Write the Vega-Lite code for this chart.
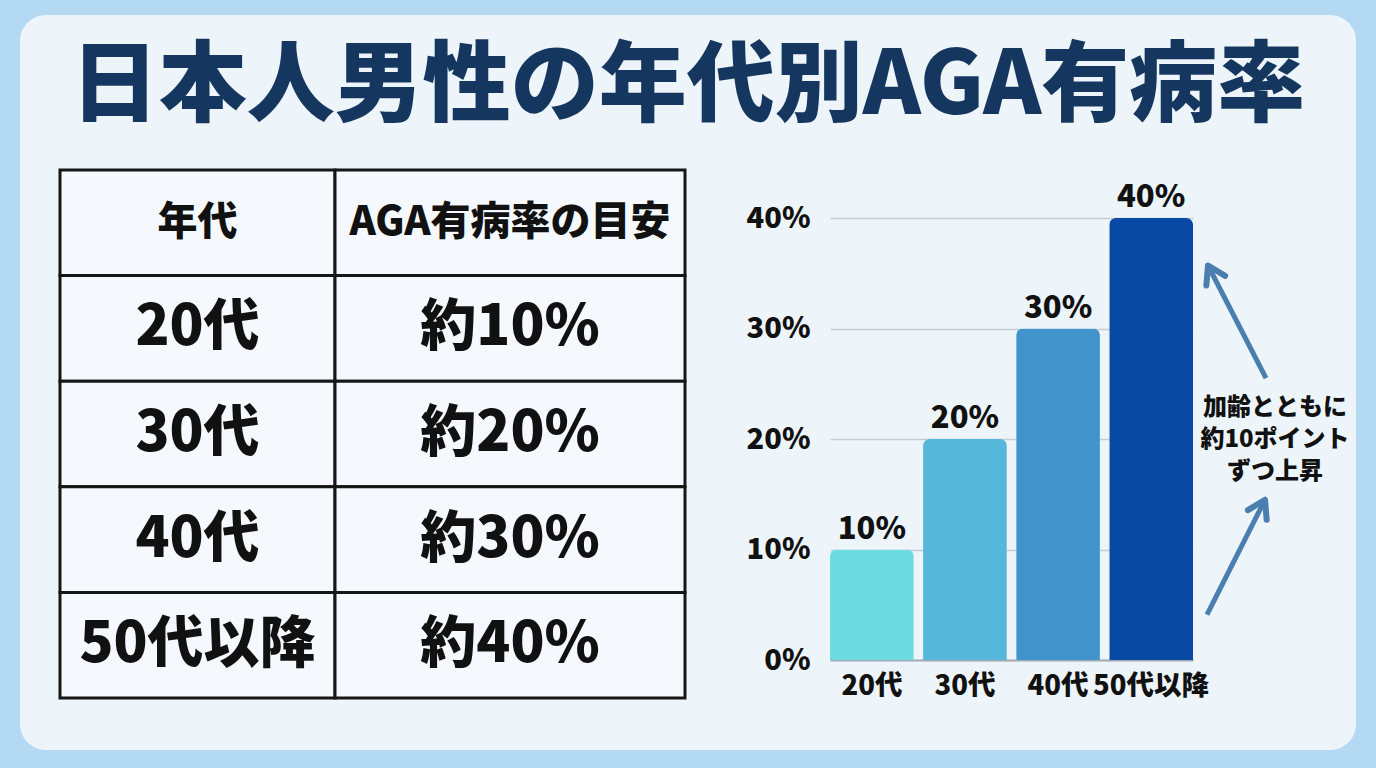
{
  "$schema": "https://vega.github.io/schema/vega-lite/v6.json",
  "width": 1336,
  "height": 735,
  "autosize": "none",
  "padding": {"left": 20, "top": 15, "right": 20, "bottom": 18},
  "background": "#b4d9f3",
  "config": {
    "view": {"fill": "#edf5fb", "stroke": null, "cornerRadius": 26},
    "font": "Noto Sans CJK JP",
    "text": {"font": "Noto Sans CJK JP", "color": "#111111"}
  },
  "title": {
    "text": "日本人男性の年代別AGA有病率",
    "font": "Noto Sans CJK JP",
    "fontSize": 88,
    "fontWeight": 900,
    "color": "#15375f",
    "anchor": "middle",
    "frame": "group",
    "orient": "top",
    "baseline": "alphabetic",
    "offset": -187
  },
  "datasets": {
    "table": [
      {"k": "年代", "v": "AGA有病率の目安", "h": true},
      {"k": "20代", "v": "約10%", "h": false},
      {"k": "30代", "v": "約20%", "h": false},
      {"k": "40代", "v": "約30%", "h": false},
      {"k": "50代以降", "v": "約40%", "h": false}
    ],
    "bars": [
      {"age": "20代", "rate": 10, "label": "10%"},
      {"age": "30代", "rate": 20, "label": "20%"},
      {"age": "40代", "rate": 30, "label": "30%"},
      {"age": "50代以降", "rate": 40, "label": "40%"}
    ],
    "arrows": [
      {"id": "upper", "x": 66, "y": 25.5, "x2": 8, "y2": 35.7},
      {"id": "lower", "x": 7, "y": 4.1, "x2": 65, "y2": 14.5}
    ],
    "note": [
      {"x": 75, "y": 22.8, "text": "加齢とともに\n約10ポイント\nずつ上昇"}
    ]
  },
  "layer": [
    {
      "data": {"name": "table"},
      "encoding": {
        "y": {"field": "k", "type": "nominal", "sort": null,
              "scale": {"range": [155, 683], "paddingInner": 0, "paddingOuter": 0},
              "axis": null}
      },
      "layer": [
        {
          "encoding": {
            "x": {"datum": "年代", "type": "nominal",
                  "scale": {"range": [40, 315], "paddingInner": 0, "paddingOuter": 0},
                  "axis": null}
          },
          "layer": [
            {"mark": {"type": "rect", "fill": "#f5f9fd", "stroke": "#161616", "strokeWidth": 3}},
            {"transform": [{"filter": "datum.h"}],
             "mark": {"type": "text", "fontSize": 40, "fontWeight": 900, "baseline": "middle"},
             "encoding": {"text": {"field": "k"}}},
            {"transform": [{"filter": "!datum.h"}],
             "mark": {"type": "text", "fontSize": 56, "fontWeight": 900, "baseline": "middle"},
             "encoding": {"text": {"field": "k"}}}
          ]
        },
        {
          "encoding": {
            "x": {"datum": "目安", "type": "nominal",
                  "scale": {"range": [315, 665], "paddingInner": 0, "paddingOuter": 0},
                  "axis": null}
          },
          "layer": [
            {"mark": {"type": "rect", "fill": "#f5f9fd", "stroke": "#161616", "strokeWidth": 3}},
            {"transform": [{"filter": "datum.h"}],
             "mark": {"type": "text", "fontSize": 40, "fontWeight": 900, "baseline": "middle"},
             "encoding": {"text": {"field": "v"}}},
            {"transform": [{"filter": "!datum.h"}],
             "mark": {"type": "text", "fontSize": 56, "fontWeight": 900, "baseline": "middle"},
             "encoding": {"text": {"field": "v"}}}
          ]
        }
      ],
      "resolve": {"scale": {"x": "independent"}}
    },
    {
      "data": {"name": "bars"},
      "encoding": {
        "x": {"field": "age", "type": "nominal", "sort": null,
              "scale": {"range": [810, 1173], "paddingInner": 0.1, "paddingOuter": 0},
              "axis": {"orient": "bottom", "offset": -90, "title": null, "labelAngle": 0,
                       "labelFontSize": 27.5, "labelFontWeight": 900, "labelColor": "#111111",
                       "labelFont": "Noto Sans CJK JP", "labelPadding": 12,
                       "ticks": false, "grid": false, "domainColor": "#a3abb5", "domainWidth": 2}},
        "y": {"field": "rate", "type": "quantitative",
              "scale": {"domain": [0, 40], "range": [645, 203], "nice": false},
              "axis": {"orient": "left", "offset": -810, "title": null, "values": [0, 10, 20, 30, 40],
                       "labelExpr": "datum.value + '%'",
                       "labelFontSize": 29, "labelFontWeight": 900, "labelColor": "#111111",
                       "labelFont": "Noto Sans CJK JP", "labelPadding": 20,
                       "ticks": false, "domain": false, "grid": true,
                       "gridColor": "#c6ccd4", "gridWidth": 1.5}}
      },
      "layer": [
        {"mark": {"type": "bar", "cornerRadiusTopLeft": 7, "cornerRadiusTopRight": 7},
         "encoding": {
           "color": {"field": "age", "type": "nominal", "sort": null, "legend": null,
                     "scale": {"range": ["#6cdce0", "#55b7d9", "#4093cb", "#0749a3"]}}
         }},
        {"mark": {"type": "text", "fontSize": 31, "fontWeight": 900, "baseline": "alphabetic", "dy": -11},
         "encoding": {"text": {"field": "label"}}}
      ]
    },
    {
      "encoding": {},
      "layer": [
        {
          "data": {"name": "arrows"},
          "mark": {"type": "rule", "color": "#4a7eaf", "strokeWidth": 5},
          "encoding": {
            "x": {"field": "x", "type": "quantitative",
                  "scale": {"domain": [0, 150], "range": [1180, 1330], "nice": false, "zero": false}, "axis": null},
            "y": {"field": "y", "type": "quantitative",
                  "scale": {"domain": [0, 40], "range": [645, 203], "nice": false}, "axis": null},
            "x2": {"field": "x2"},
            "y2": {"field": "y2"}
          }
        },
        {
          "data": {"name": "arrows"},
          "transform": [{"filter": "datum.id === 'upper'"}],
          "mark": {"type": "point", "shape": "M-0.62,1L0,0L0.62,1", "size": 1156, "filled": false,
                   "stroke": "#4a7eaf", "strokeWidth": 6, "strokeCap": "round", "strokeJoin": "round",
                   "angle": 333, "opacity": 1},
          "encoding": {
            "x": {"field": "x2", "type": "quantitative"},
            "y": {"field": "y2", "type": "quantitative"}
          }
        },
        {
          "data": {"name": "arrows"},
          "transform": [{"filter": "datum.id === 'lower'"}],
          "mark": {"type": "point", "shape": "M-0.62,1L0,0L0.62,1", "size": 1156, "filled": false,
                   "stroke": "#4a7eaf", "strokeWidth": 6, "strokeCap": "round", "strokeJoin": "round",
                   "angle": 27, "opacity": 1},
          "encoding": {
            "x": {"field": "x2", "type": "quantitative"},
            "y": {"field": "y2", "type": "quantitative"}
          }
        },
        {
          "data": {"name": "note"},
          "mark": {"type": "text", "fontSize": 24, "fontWeight": 900, "lineBreak": "\n",
                   "lineHeight": 32, "align": "center", "baseline": "middle"},
          "encoding": {
            "x": {"field": "x", "type": "quantitative"},
            "y": {"field": "y", "type": "quantitative"},
            "text": {"field": "text"}
          }
        }
      ]
    }
  ],
  "resolve": {"scale": {"x": "independent", "y": "independent", "color": "independent"},
              "axis": {"x": "independent", "y": "independent"}}
}
